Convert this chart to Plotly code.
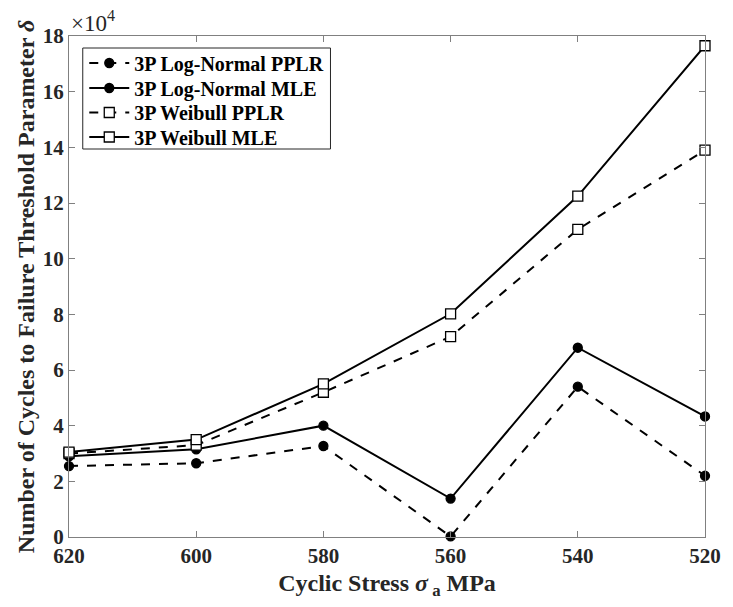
import plotly.graph_objects as go

stress = [620, 600, 580, 560, 540, 520]
ln_pplr = [25500, 26500, 32700, 200, 54000, 22000]
ln_mle = [29000, 31500, 40000, 13800, 68000, 43300]
wb_pplr = [30000, 33000, 52000, 72000, 110500, 139000]
wb_mle = [30500, 35000, 55000, 80200, 122500, 176500]
y_ticks = [0, 20000, 40000, 60000, 80000, 100000, 120000, 140000, 160000, 180000]
y_tick_text = ["0", "2", "4", "6", "8", "10", "12", "14", "16", "18"]

font = "Liberation Serif"
fig = go.Figure()
series = [
    ("3P Log-Normal PPLR", ln_pplr, "dash", "circle", "black", 9),
    ("3P Log-Normal MLE", ln_mle, "solid", "circle", "black", 9),
    ("3P Weibull PPLR", wb_pplr, "dash", "square", "white", 10),
    ("3P Weibull MLE", wb_mle, "solid", "square", "white", 10),
]
legend_ids = ["legend", "legend2", "legend3", "legend4"]
for (name, vals, dash, sym, fill, sz), lid in zip(series, legend_ids):
    fig.add_trace(go.Scatter(
        x=stress, y=vals, name=name, mode="lines+markers",
        line=dict(color="black", width=2, dash=dash),
        marker=dict(symbol=sym, size=sz, color=fill, line=dict(color="black", width=1.3)),
        cliponaxis=False, legend=lid,
    ))

# plot area: top pixel 36, height 501
row_px = [63, 88, 112.5, 137]
legend_layout = {}
for lid, p in zip(legend_ids, row_px):
    legend_layout[lid] = dict(
        x=0.024, y=(537 - p) / 501, xanchor="left", yanchor="middle",
        borderwidth=0, bgcolor="rgba(0,0,0,0)",
        font=dict(family=font, size=20, color="black", weight="bold"),
        itemwidth=40,
    )

fig.update_layout(
    width=733, height=607,
    margin=dict(l=69, r=17, t=36, b=70),
    paper_bgcolor="white", plot_bgcolor="white",
    font=dict(family=font, size=20, color="#262626"),
    showlegend=True,
    xaxis=dict(
        range=[620, 520], tickvals=stress, ticktext=[str(s) for s in stress],
        showline=True, linecolor="#808080", linewidth=1, mirror="ticks",
        ticks="inside", ticklen=6, tickcolor="#808080",
        showgrid=False, zeroline=False,
        tickfont=dict(family=font, size=21, color="#262626", weight="bold"),
        title=dict(text="Cyclic Stress <i>σ</i><sub> a</sub> MPa",
                   font=dict(family=font, size=24, color="#262626", weight="bold"),
                   standoff=6),
    ),
    yaxis=dict(
        range=[0, 180000], tickvals=y_ticks, ticktext=y_tick_text,
        showline=True, linecolor="#808080", linewidth=1, mirror="ticks",
        ticks="inside", ticklen=6, tickcolor="#808080",
        showgrid=False, zeroline=False,
        tickfont=dict(family=font, size=21, color="#262626", weight="bold"),
        title=dict(text="Number of Cycles to Failure Threshold Parameter <i>δ</i>",
                   font=dict(family=font, size=24, color="#262626", weight="bold"),
                   standoff=1),
    ),
    **legend_layout,
)
fig.add_shape(
    type="rect", xref="paper", yref="paper",
    x0=(83 - 69) / 647, x1=(335 - 69) / 647,
    y0=(537 - 149) / 501, y1=(537 - 48) / 501,
    line=dict(color="#262626", width=1), fillcolor="white", layer="above",
)
fig.add_annotation(
    x=0, y=1, xref="paper", yref="paper", xanchor="left", yanchor="bottom",
    text="×10<sup>4</sup>", showarrow=False, yshift=-2, xshift=0,
    font=dict(family=font, size=23, color="#262626"),
)
fig.write_html("out.html")
